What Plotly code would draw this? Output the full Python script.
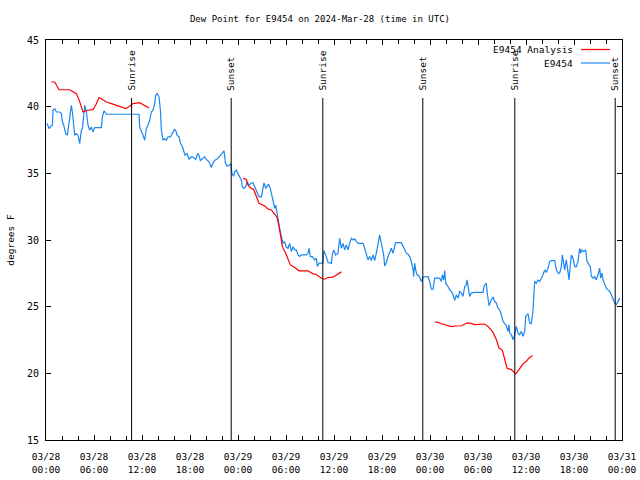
import pandas as pd
import plotly.graph_objects as go

BASE = pd.Timestamp("2024-03-28 00:00")

# ---- E9454 observations (hours since 03/28 00:00 UTC, dew point F)
obs_hours = [0.13, 0.38, 0.59, 0.80, 0.88, 1.09, 1.30, 1.71, 1.92, 2.05, 2.21, 2.46, 2.67, 2.88, 3.05, 3.17,
             3.30, 3.46, 3.59, 3.80, 4.00, 4.21, 4.42, 4.55, 4.71, 4.84, 5.05, 5.25, 5.46, 5.67, 5.88, 6.09,
             6.50, 6.92, 7.05, 7.25, 7.55, 8.8, 10.05, 11.63, 11.71, 11.92, 12.13, 12.34, 12.55, 12.75, 12.96,
             13.17, 13.38, 13.59, 13.71, 13.92, 14.13, 14.30, 14.42, 14.63, 14.84, 15.05, 15.25, 15.55, 15.80,
             16.05, 16.21, 16.38, 16.63, 16.80, 17.05, 17.21, 17.38, 17.63, 17.88, 18.17, 18.46, 18.71, 18.96,
             19.13, 19.30, 19.55, 19.84, 20.05, 20.38, 20.67, 20.88, 21.13, 21.42, 21.71, 22.05, 22.25, 22.42,
             22.63, 22.88, 23.09, 23.25, 23.46,
             23.585, 23.79, 24.0, 24.21, 24.42, 24.54, 24.75, 24.96, 25.13, 25.38, 25.67, 25.88, 26.08, 26.29,
             26.5, 26.63, 26.92, 27.13, 27.25, 27.46, 27.63, 27.83, 28.04, 28.17, 28.38, 28.585, 28.71, 28.88,
             29.085, 29.21, 29.42, 29.63, 29.835, 30.04, 30.25, 30.46, 30.67, 30.88, 31.085, 31.29, 31.5, 31.71,
             31.92, 32.335, 32.54, 32.75, 32.875, 33.04, 33.29, 33.585, 33.79, 33.92, 34.13, 34.42, 34.63, 34.71,
             34.96, 35.25, 35.67, 35.79, 35.96, 36.21, 36.5, 36.71, 36.92, 37.13, 37.335, 37.54, 37.75, 37.96,
             38.17, 38.38, 38.585, 38.79, 39.0, 39.42, 39.63, 39.835, 40.04, 40.25, 40.46, 40.67, 40.88, 41.085,
             41.29, 41.5, 41.71,
             41.79, 42.04, 42.21, 42.335, 42.54, 42.75, 42.96, 43.17, 43.38, 43.585, 43.71, 44.42, 44.63, 44.835,
             45.04, 45.25, 45.46, 45.67, 45.88, 45.96, 46.085, 46.21, 46.38, 46.63, 46.79, 46.92, 47.13, 47.75,
             47.96, 48.17, 48.38, 48.585, 49.21, 49.42, 49.54, 49.71, 49.835, 49.96, 50.25, 50.46, 50.67, 50.88,
             51.085, 51.29, 51.5, 51.71, 51.92, 52.13, 52.335, 52.54, 52.63, 52.75, 52.96, 53.17, 53.46, 54.21,
             54.63, 54.75, 54.92, 55.04, 55.13, 55.25, 55.38, 55.67, 55.88, 56.085, 56.29, 56.5, 56.71, 56.92,
             57.13, 57.335, 57.54, 57.75, 57.88, 57.96, 58.17, 58.38, 58.585, 58.79, 59.0, 59.21, 59.42, 59.63,
             59.835, 59.96, 60.25, 60.46, 60.67, 60.88, 60.96, 61.085, 61.29, 61.5, 61.71, 61.92, 62.13, 62.335,
             62.54, 62.75, 62.96, 63.17, 63.585, 63.79, 64.0, 64.21, 64.42, 64.54, 64.71, 64.835, 65.04, 65.25,
             65.38, 65.46, 65.67, 65.88, 66.085, 66.29, 66.5, 66.71, 66.835, 67.0, 67.21, 67.46, 67.63, 67.88,
             68.04, 68.17, 68.38, 68.585, 68.79, 69.0, 69.21, 69.335, 69.5, 69.625, 69.835, 70.04, 70.25, 70.46,
             70.67, 70.875, 71.085, 71.29, 71.5, 71.71]
obs_values = [38.73, 38.36, 38.53, 38.61, 39.73, 39.85, 39.60, 39.60, 39.48, 38.86, 38.61, 37.98, 37.86, 38.73,
              39.60, 40.10, 39.60, 38.61, 37.86, 37.98, 37.86, 37.23, 38.23, 38.36, 39.23, 40.10, 39.60, 38.61,
              38.23, 38.48, 38.11, 38.43, 38.43, 38.43, 39.23, 39.68, 39.43, 39.43, 39.43, 39.43, 38.48, 38.23,
              37.86, 37.48, 38.36, 38.61, 38.98, 39.60, 39.73, 40.23, 40.85, 40.97, 40.72, 39.73, 38.23, 37.48,
              37.61, 37.48, 37.73, 37.73, 37.98, 38.28, 38.23, 37.86, 37.73, 37.28, 36.99, 36.74, 36.36, 36.49,
              36.04, 36.24, 36.19, 36.04, 36.49, 36.36, 35.94, 36.11, 36.24, 36.04, 35.86, 35.44, 35.79, 35.99,
              36.09, 36.29, 36.54, 36.69, 35.79, 35.54, 35.61, 35.69, 34.99, 34.79,
              35.115, 35.24, 34.99, 34.74, 34.49, 33.99, 33.87, 33.99, 34.37, 34.12, 34.29, 34.29, 33.99, 33.79,
              33.49, 33.24, 33.24, 33.99, 34.29, 33.87, 33.99, 34.19, 33.87, 33.49, 32.87, 32.37, 32.62, 32.12,
              31.38, 30.88, 30.25, 29.75, 29.88, 29.45, 29.38, 29.75, 29.13, 29.50, 29.26, 29.26, 28.88, 28.76,
              28.88, 28.88, 28.88, 29.01, 29.38, 28.76, 28.76, 28.51, 28.63, 28.01, 28.26, 28.26, 28.26, 29.21,
              28.88, 28.31, 28.26, 28.88, 29.26, 28.88, 29.01, 30.13, 29.38, 29.75, 29.26, 29.63, 29.26, 29.75,
              30.13, 30.0, 30.08, 29.88, 29.75, 29.75, 29.75, 29.38, 28.88, 28.51, 28.76, 28.46, 28.88, 28.46,
              29.01, 29.75, 30.38,
              30.13, 29.51, 28.88, 28.06, 28.31, 28.76, 29.13, 29.38, 29.01, 29.63, 29.80, 29.80, 29.51, 29.31,
              29.01, 28.93, 28.76, 28.38, 27.81, 27.26, 28.26, 27.76, 27.39, 27.31, 27.01, 26.89, 27.21, 27.26,
              26.89, 26.31, 26.31, 27.14, 27.14, 26.89, 27.39, 27.01, 27.71, 26.76, 26.51, 26.26, 26.14, 25.89,
              25.47, 25.89, 25.64, 26.14, 26.02, 25.77, 26.51, 26.64, 27.01, 26.51, 25.77, 26.02, 26.07, 26.07,
              26.07, 26.51, 26.64, 26.76, 26.14, 25.64, 25.07, 25.52, 25.72, 25.39, 25.27, 24.89, 24.77, 24.39,
              23.90, 23.72, 23.57, 23.15, 23.65, 23.02, 22.90, 22.52, 22.90, 23.52, 23.02, 22.90, 23.15, 22.77,
              23.15, 24.27, 24.47, 23.77, 23.72, 24.77, 25.52, 26.89, 26.76, 27.01, 26.89, 27.14, 27.39, 27.76,
              27.56, 27.89, 28.38, 28.46, 28.46, 27.76, 27.51, 27.51, 28.01, 28.88, 28.26, 27.76, 28.51, 27.76,
              27.01, 27.64, 28.88, 28.63, 28.01, 28.01, 28.38, 29.38, 29.01, 29.26, 29.13, 29.26, 28.38, 28.13,
              28.01, 27.26, 27.14, 27.26, 27.01, 27.39, 27.89, 27.14, 27.51, 27.01, 26.64, 26.39, 26.26, 26.14,
              25.89, 25.52, 25.27, 25.14, 25.39, 25.64]

# ---- E9454 Analysis (three separate runs)
ana1_hours = [0.67, 1.09, 1.63, 2.96, 3.8, 4.13, 4.42, 4.63, 5.17, 5.88, 6.21, 6.63, 6.92, 7.55, 8.17, 8.8,
              9.55, 9.96, 10.46, 10.88, 11.71, 12.33, 12.88]
ana1_values = [41.85, 41.85, 41.27, 41.27, 40.97, 40.53, 39.98, 39.6, 39.73, 39.78, 40.1, 40.68, 40.6, 40.35,
               40.23, 40.1, 39.9, 39.85, 40.03, 40.23, 40.3, 40.1, 39.9]
ana2_hours = [24.63, 25.05, 25.25, 25.67, 25.96, 26.3, 26.63, 27.34, 27.75, 28.17, 28.59, 28.88, 29.13, 29.3,
              29.55, 29.96, 30.25, 30.55, 31.09, 31.63, 32.75, 33.38, 33.8, 34.13, 34.42, 34.84, 35.25, 35.88,
              36.38, 36.92]
ana2_values = [34.62, 34.54, 34.12, 33.87, 33.79, 33.24, 32.75, 32.55, 32.32, 32.25, 31.87, 31.7, 31.0, 30.38,
               29.5, 29.01, 28.63, 28.13, 27.93, 27.69, 27.69, 27.46, 27.41, 27.26, 27.14, 27.06, 27.19, 27.21,
               27.39, 27.61]
ana3_hours = [48.59, 49.0, 49.42, 50.04, 50.67, 51.3, 51.92, 52.63, 53.04, 53.59, 54.21, 54.84, 55.25, 55.88,
              56.3, 56.63, 57.05, 57.34, 57.63, 58.17, 58.71, 59.13, 59.63, 60.05, 60.38, 60.8]
ana3_values = [23.85, 23.82, 23.72, 23.62, 23.5, 23.55, 23.57, 23.77, 23.77, 23.65, 23.65, 23.7, 23.52, 23.07,
               22.52, 21.9, 21.73, 21.15, 20.38, 20.28, 19.96, 20.28, 20.73, 20.9, 21.15, 21.33]

# ---- Sunrise / sunset events (hours since start)
event_hours = [10.7, 23.15, 34.6, 47.1, 58.6, 71.15]
event_labels = ["Sunrise", "Sunset", "Sunrise", "Sunset", "Sunrise", "Sunset"]

tick_hours = list(range(0, 73, 6))
y_ticks = [15, 20, 25, 30, 35, 40, 45]

FONT = "DejaVu Sans Mono"


def to_time(hours):
    return [BASE + pd.Timedelta(hours=h) for h in hours]


ana_hours = ana1_hours + [None] + ana2_hours + [None] + ana3_hours
ana_values = ana1_values + [None] + ana2_values + [None] + ana3_values
ana_times = [BASE + pd.Timedelta(hours=h) if h is not None else None for h in ana_hours]

fig = go.Figure()
fig.add_trace(go.Scatter(x=to_time(obs_hours), y=obs_values, mode="lines",
                         line=dict(color="#1a86f0", width=1.2), name="E9454"))
fig.add_trace(go.Scatter(x=ana_times, y=ana_values, mode="lines", connectgaps=False,
                         line=dict(color="#ff0000", width=1.2), name="E9454 Analysis"))

LINE_TOP = 0.855
for h, lab in zip(event_hours, event_labels):
    t = BASE + pd.Timedelta(hours=h)
    fig.add_shape(type="line", x0=t, x1=t, xref="x", y0=0, y1=LINE_TOP, yref="paper",
                  line=dict(color="black", width=1))
    fig.add_annotation(x=t, xref="x", y=0.868, yref="paper", text=lab, textangle=-90,
                       showarrow=False, xanchor="center", yanchor="bottom",
                       font=dict(family=FONT, size=9.5, color="black"))

# manual gnuplot-style key
key = [("E9454 Analysis", "#ff0000", 49.5), ("E9454", "#1a86f0", 63)]
for text, col, ypx in key:
    yp = (440 - ypx) / 400
    fig.add_annotation(x=(575 - 46) / 576, xref="paper", y=yp, yref="paper", text=text,
                       showarrow=False, xanchor="right", yanchor="middle",
                       font=dict(family=FONT, size=9.5, color="black"))
    fig.add_shape(type="line", xref="paper", yref="paper", x0=(581 - 46) / 576, x1=(610 - 46) / 576,
                  y0=yp, y1=yp, line=dict(color=col, width=1.2))

fig.update_layout(
    width=640, height=480,
    margin=dict(l=46, r=18, t=40, b=40, autoexpand=False),
    paper_bgcolor="white", plot_bgcolor="white",
    showlegend=False,
    font=dict(family=FONT, size=9.5, color="black"),
    title=dict(text="Dew Point for E9454 on 2024-Mar-28 (time in UTC)", x=0.5, xref="container",
               xanchor="center", y=1 - 19 / 480, yref="container", yanchor="middle",
               font=dict(family=FONT, size=9, color="black")),
)
fig.update_xaxes(
    range=[BASE, BASE + pd.Timedelta(hours=72)],
    automargin=False,
    tickmode="array",
    tickvals=to_time(tick_hours),
    ticktext=[(BASE + pd.Timedelta(hours=h)).strftime("%m/%d<br>%H:%M") for h in tick_hours],
    ticks="inside", ticklen=5, tickcolor="black", tickwidth=1,
    minor=dict(dtick=2 * 3600 * 1000, tick0=BASE, ticks="inside", ticklen=4, tickcolor="black"),
    showline=True, linecolor="black", linewidth=1, mirror="allticks",
    showgrid=False, zeroline=False,
    ticklabelstandoff=8,
    tickfont=dict(family=FONT, size=9.5, color="black"),
)
fig.update_yaxes(
    range=[15, 45], tickvals=y_ticks,
    automargin=False,
    ticks="inside", ticklen=5, tickcolor="black", tickwidth=1,
    showline=True, linecolor="black", linewidth=1, mirror="allticks",
    showgrid=False, zeroline=False,
    tickfont=dict(family=FONT, size=10, color="black"),
    ticklabelstandoff=4,
    title=dict(text="degrees F", standoff=10, font=dict(family=FONT, size=9.5, color="black")),
)

fig.write_html("out.html")
